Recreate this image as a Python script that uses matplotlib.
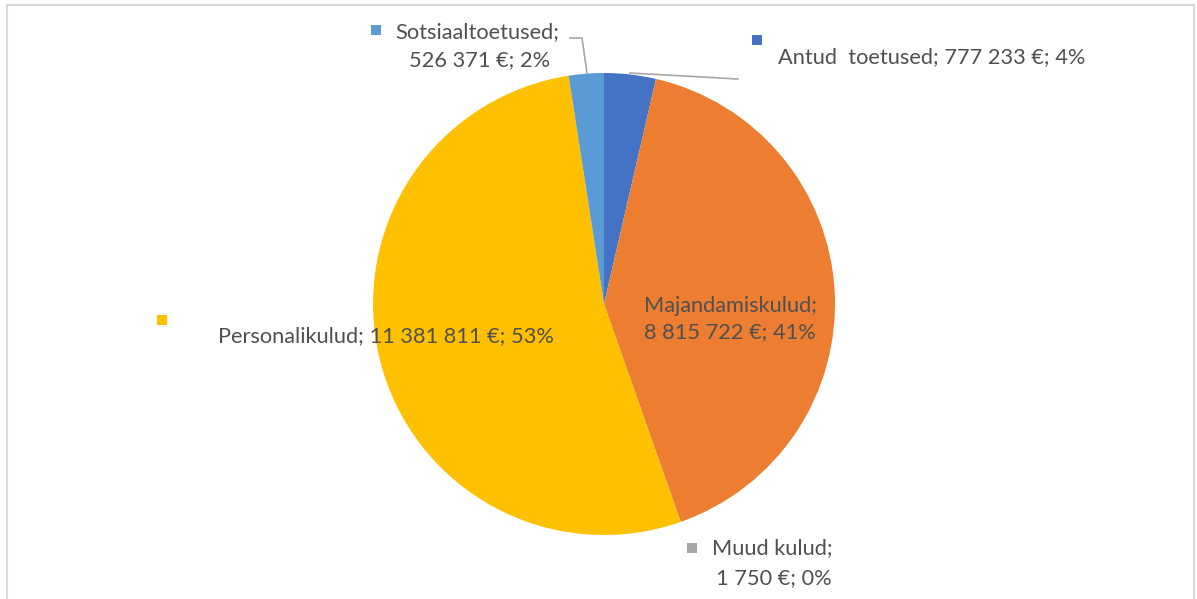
import matplotlib
matplotlib.use("Agg")
import matplotlib.pyplot as plt
from matplotlib.patches import Rectangle

categories = ["Antud  toetused", "Majandamiskulud", "Muud kulud", "Personalikulud", "Sotsiaaltoetused"]
values = [777233, 8815722, 1750, 11381811, 526371]
colors = ["#4472C4", "#ED7D31", "#A5A5A5", "#FFC000", "#5B9BD5"]

plt.rcParams['font.family'] = ['Lato', 'DejaVu Sans']
TXT = "#505050"
FS = 15.7

def fmt(v):
    return f"{v:,}".replace(",", " ") + " €"

total = sum(values)
pct = [f"{round(v / total * 100):.0f}%" for v in values]

fig = plt.figure(figsize=(11.97, 5.99), dpi=100)
ax = fig.add_axes([0, 0, 1, 1])
ax.pie(values, colors=colors, startangle=90, counterclock=False,
       center=(604, 295), radius=231,
       wedgeprops=dict(linewidth=0))
ax.set_xlim(0, 1197)
ax.set_ylim(0, 599)
ax.set_aspect('equal', adjustable='box')
ax.axis('off')

# chart frame
ax.add_patch(Rectangle((7, -10), 1187, 604, fill=False, edgecolor="#D9D9D9", linewidth=1.5, clip_on=False))

def square(x, y, c):
    ax.add_patch(Rectangle((x - 5, y - 5), 10, 10, facecolor=c, edgecolor='none'))

# Antud toetused
square(757, 559, colors[0])
ax.plot([630, 738], [526, 520], color="#A6A6A6", lw=1.2)
ax.text(778, 542, f"{categories[0]}; {fmt(values[0])}; {pct[0]}", color=TXT, fontsize=FS, ha='left', va='center')

# Majandamiskulud (inside)
ax.text(730, 280, f"{categories[1]};\n{fmt(values[1])}; {pct[1]}", color=TXT, fontsize=FS, ha='center', va='center', linespacing=1.35)

# Muud kulud
square(692, 51, colors[2])
ax.text(712, 51, f"{categories[2]};", color=TXT, fontsize=FS, ha='left', va='center')
ax.text(774, 21, f"{fmt(values[2])}; {pct[2]}", color=TXT, fontsize=FS, ha='center', va='center')

# Personalikulud
square(162, 279, colors[3])
ax.text(218, 263, f"{categories[3]}; {fmt(values[3])}; {pct[3]}", color=TXT, fontsize=FS, ha='left', va='center')

# Sotsiaaltoetused
square(376, 569, colors[4])
ax.plot([570, 582, 587], [561, 561, 526], color="#A6A6A6", lw=1.2)
ax.text(395, 567, f"{categories[4]};", color=TXT, fontsize=FS, ha='left', va='center')
ax.text(480, 539, f"{fmt(values[4])}; {pct[4]}", color=TXT, fontsize=FS, ha='center', va='center')

fig.savefig("out.png", dpi=100)
